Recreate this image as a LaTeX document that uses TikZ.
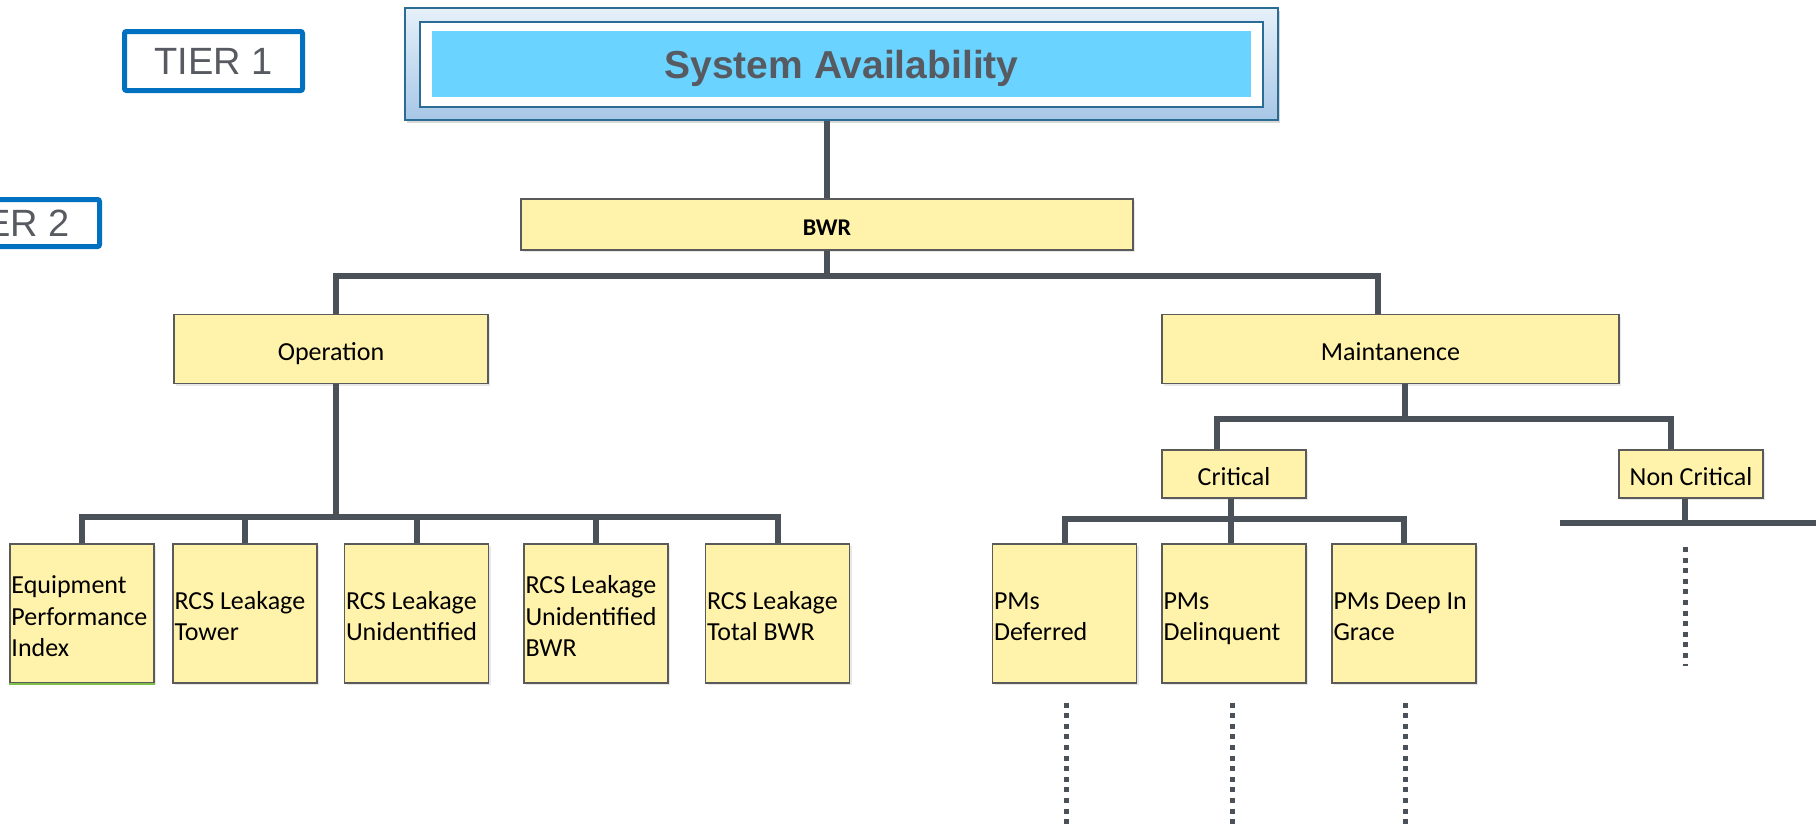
\documentclass[tikz,border=0pt]{standalone}
\usepackage{fontspec}
\setmainfont{Carlito}
\newfontfamily\arialfont{Liberation Sans}
\usetikzlibrary{shadows,calc}

\definecolor{boxfill}{HTML}{FFF2AA}
\definecolor{boxline}{HTML}{5A5A5A}
\definecolor{linkgray}{HTML}{4B5159}
\definecolor{tierblue}{HTML}{0070C0}
\definecolor{tiertext}{HTML}{575B61}
\definecolor{skycyan}{HTML}{6BD3FF}
\definecolor{frameblue}{HTML}{2B6C95}
\definecolor{gradtop}{HTML}{E6F0F9}
\definecolor{gradbot}{HTML}{A7C7E7}
\definecolor{leafgreen}{HTML}{7CC04A}

\begin{document}
\begin{tikzpicture}[x=1pt,y=-1pt,
  box/.style={draw=boxline, line width=1.2pt, fill=boxfill, inner sep=2.5pt,
    font=\fontsize{26}{31.5}\selectfont,
    drop shadow={opacity=0.18, shadow xshift=2pt, shadow yshift=-2pt}},
  leaf/.style={box, inner xsep=1.5pt, minimum height=139pt, text width=141pt,
    align=flush left,
    execute at begin node={\rule{0pt}{30pt}},
    execute at end node={\rule[-7pt]{0pt}{7pt}}},
  midbox/.style={box, align=center, text height=22pt, text depth=0pt},
  conn/.style={draw=linkgray, line width=6pt, line join=miter},
  dots/.style={draw=linkgray, line width=5pt, dash pattern=on 5pt off 5.6pt},
  tier/.style={draw=tierblue, line width=5pt, rounded corners=2pt, fill=white,
    minimum width=178pt, text=tiertext, text depth=0pt,
    font=\arialfont\fontsize{38}{44}\selectfont,
    drop shadow={opacity=0.2, shadow xshift=2pt, shadow yshift=-2pt}}
]
\clip (0,0) rectangle (1816,823);
\fill[white] (0,0) rectangle (1816,823);

% tier labels
\node[tier, minimum height=59pt] (t1) at (213.5,61) {TIER 1};
\node[tier, minimum height=47pt] (t2) at (10.5,223) {TIER 2};

% top level: framed title
\node[draw=frameblue, line width=2pt, top color=gradtop, bottom color=gradbot,
  minimum width=873pt, minimum height=112pt,
  drop shadow={opacity=0.3, shadow xshift=2pt, shadow yshift=-3pt}] (sysout) at (841.5,64) {};
\node[draw=frameblue, line width=2pt, fill=white,
  minimum width=843pt, minimum height=85pt] (sysframe) at (841.5,64.5) {};
\node[fill=skycyan, minimum width=819pt, minimum height=66pt, text=tiertext, text depth=0pt,
  font=\arialfont\bfseries\fontsize{39}{45}\selectfont] (sys) at (841.5,64) {System Availability};

% second level
\node[midbox, minimum width=612pt, minimum height=51pt,
  font=\bfseries\fontsize{24}{29}\selectfont] (bwr) at (827,224.5) {BWR};
\node[midbox, minimum width=314pt, minimum height=69pt] (op) at (331,349) {Operation};
\node[midbox, minimum width=457pt, minimum height=69pt] (maint) at (1390.5,349) {Maintanence};
\node[midbox, minimum width=144pt, minimum height=48pt] (crit) at (1234,474) {Critical};
\node[midbox, minimum width=144pt, minimum height=48pt] (ncrit) at (1691,474) {Non Critical};

% leaves
\node[leaf] (eq) at (82,613.5) {Equipment\\Performance\\Index};
\node[leaf] (tower) at (245,613.5) {RCS Leakage\\Tower};
\node[leaf] (unid) at (416.5,613.5) {RCS Leakage\\Unidentified};
\node[leaf] (unidbwr) at (596,613.5) {RCS Leakage\\Unidentified\\BWR};
\node[leaf] (total) at (777.5,613.5) {RCS Leakage\\Total BWR};
\node[leaf] (pmdef) at (1064.5,613.5) {PMs\\Deferred};
\node[leaf] (pmdel) at (1234,613.5) {PMs\\Delinquent};
\node[leaf] (pmdeep) at (1404,613.5) {PMs Deep In\\Grace};
\draw[leafgreen, line width=2pt] (eq.south west) -- (eq.south east);

% bus junctions
\coordinate (b1l) at (336,276);
\coordinate (b1r) at (1378,276);
\coordinate (b2) at (336,517);
\coordinate (b3) at (1405,419);
\coordinate (b3l) at (1217,419);
\coordinate (b3r) at (1671,419);
\coordinate (b4) at (1231,519);
\coordinate (b5) at (1685,523);
\coordinate (b5l) at (1560,523);
\coordinate (b5r) at (1830,523);
\coordinate (dend) at (0,830);

% connectors
\draw[conn] (bwr.north) -- (bwr.north |- sysout.south);
\draw[conn] (bwr.south) -- (bwr.south |- b1l);
\draw[conn] (op.north -| b1l) -- (b1l) -- (b1r) -- (maint.north -| b1r);

\draw[conn] (op.south -| b2) -- (b2);
\draw[conn] (eq.north) -- (eq.north |- b2) -- (total.north |- b2) -- (total.north);
\foreach \n in {tower,unid,unidbwr} \draw[conn] (\n.north) -- (\n.north |- b2);

\draw[conn] (maint.south -| b3) -- (b3);
\draw[conn] (crit.north -| b3l) -- (b3l) -- (b3r) -- (ncrit.north -| b3r);

\draw[conn] (crit.south -| b4) -- (b4);
\draw[conn] (pmdef.north) -- (pmdef.north |- b4) -- (pmdeep.north |- b4) -- (pmdeep.north);
\draw[conn] (pmdel.north -| b4) -- (b4);

\draw[conn] (ncrit.south -| b5) -- (b5);
\draw[conn] (b5l) -- (b5r);

% continuation markers
\draw[dots] ([yshift=-24pt]b5) -- ++(0,119);
\draw[dots] ([xshift=1.5pt,yshift=-19pt]pmdef.south) -- ([xshift=1.5pt]pmdef.south |- dend);
\draw[dots] ([xshift=-2pt,yshift=-19pt]pmdel.south) -- ([xshift=-2pt]pmdel.south |- dend);
\draw[dots] ([xshift=1pt,yshift=-19pt]pmdeep.south) -- ([xshift=1pt]pmdeep.south |- dend);
\end{tikzpicture}
\end{document}
